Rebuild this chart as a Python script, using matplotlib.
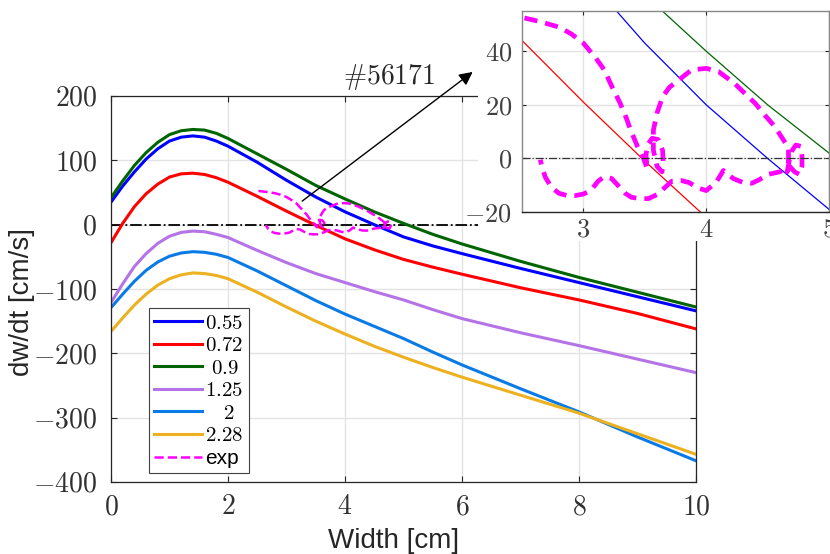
import numpy as np
import matplotlib
matplotlib.use("Agg")
import matplotlib.pyplot as plt
from matplotlib.ticker import FuncFormatter, MultipleLocator
from matplotlib.patches import Rectangle

plt.rcParams['font.family'] = ['Liberation Sans', 'DejaVu Sans']
plt.rcParams['mathtext.fontset'] = 'cm'

# ---- data ----
width = [0, 0.2, 0.4, 0.6, 0.8, 1.0, 1.2, 1.4, 1.6, 1.8, 2.0, 2.5, 3, 3.5, 4, 4.5, 5, 5.5, 6, 7, 8, 9, 10]
v_055 = [35, 60, 82, 102, 118, 130, 136, 138, 136, 130, 122, 97, 69, 43, 20, 0, -19, -33, -45, -68, -90, -112, -134]
v_072 = [-28, 2, 28, 48, 63, 74, 79, 80, 78, 73, 66, 44, 21, -1, -22, -39, -54, -66, -77, -98, -117, -138, -162]
v_09 = [42, 68, 92, 112, 128, 140, 146, 148, 147, 142, 134, 110, 86, 61, 40, 20, 2, -15, -30, -57, -82, -105, -128]
v_125 = [-121, -92, -65, -45, -29, -18, -12, -10, -11, -15, -20, -40, -59, -76, -90, -104, -117, -132, -146, -168, -188, -209, -230]
v_2 = [-129, -108, -88, -71, -58, -49, -44, -42, -43, -46, -51, -72, -95, -118, -139, -158, -177, -198, -218, -255, -291, -330, -367]
v_228 = [-166, -145, -125, -108, -94, -84, -78, -75, -76, -79, -84, -105, -128, -150, -170, -189, -206, -222, -237, -265, -293, -325, -357]

exp_w = [2.52, 2.65, 2.8, 2.9, 3.0, 3.1, 3.17, 3.23, 3.3, 3.35, 3.385, 3.44, 3.49, 3.52, 3.51,
         3.52, 3.56, 3.61, 3.645, 3.65, 3.64, 3.6, 3.57, 3.57, 3.6, 3.645, 3.7, 3.77, 3.88, 4.0,
         4.1, 4.23, 4.32, 4.4, 4.48, 4.56, 4.62, 4.67, 4.67, 4.66, 4.68, 4.7, 4.73, 4.77, 4.78,
         4.78, 4.76, 4.72, 4.68, 4.6, 4.5, 4.43, 4.37, 4.3, 4.22, 4.14, 4.08, 4.0, 3.93, 3.86,
         3.8, 3.72, 3.66, 3.6, 3.53, 3.46, 3.39, 3.34, 3.29, 3.23, 3.17, 3.12, 3.06, 3.0, 2.93,
         2.87, 2.8, 2.74, 2.69, 2.66, 2.65]
exp_v = [52.4, 51, 49, 46.5, 43, 37.5, 33, 27, 20.5, 15, 10.5, 4.5, 0, -4, 1,
         5, 7.5, 7, 3, -2, -5, -3, 3, 10.5, 17, 23, 26.5, 29, 33, 33.6,
         32.4, 28, 24, 20.5, 16, 11.8, 7.5, 4, -1, -5, 0, 3, 5, 4.5, 1,
         -3, -6, -5, -3, -5, -6, -8, -9.3, -9, -7.5, -4.5, -9, -12, -11, -9,
         -8.3, -8.5, -11, -13.5, -15, -15, -14.5, -13, -10.5, -7.5, -6.8, -8.5, -12, -13.3, -13.9,
         -13.9, -13, -10.8, -7, -3, -0.5]

series = [("0.55", v_055, '#0000FF'),
          ("0.72", v_072, '#FF0000'),
          ("0.9", v_09, '#006400'),
          ("1.25", v_125, '#B473E6'),
          ("2", v_2, '#0A7BE6'),
          ("2.28", v_228, '#EDB120')]
legend_labels = [r'$0.55$', r'$0.72$', r'$\ 0.9$', r'$1.25$', r'$\ \ \ 2$', r'$2.28$', 'exp']

fig = plt.figure(figsize=(8.3, 5.54), dpi=100)
W, H = 830, 554

def fx(px):
    return px / W

def fy(py):
    return 1 - py / H

ax = fig.add_axes([fx(111), fy(482), fx(696) - fx(111), fy(96) - fy(482)])
ax.set_zorder(0)
for lab, vals, col in series:
    ax.plot(width, vals, color=col, lw=2.2, label=lab)
ax.plot(exp_w, exp_v, color='#FF00FF', lw=1.8, ls='--', label='exp')
ax.axhline(0, color='k', lw=1.3, ls='-.', zorder=1.5)

ax.set_xlim(0, 10)
ax.set_ylim(-400, 200)
ax.xaxis.set_major_locator(MultipleLocator(2))
ax.yaxis.set_major_locator(MultipleLocator(100))
fmt = FuncFormatter(lambda v, p: f'${v:g}$')
ax.xaxis.set_major_formatter(fmt)
ax.yaxis.set_major_formatter(fmt)
ax.grid(True, color='#E3E3E3', lw=1.0)
ax.set_axisbelow(True)
ax.tick_params(direction='in', length=4.5, width=0.8, top=True, right=True,
               labelsize=20, labelcolor='#303030', color='#262626')
ax.tick_params(axis='x', pad=9)
ax.tick_params(axis='y', pad=10)
for s in ax.spines.values():
    s.set_color('#262626')
    s.set_linewidth(0.9)

ax.set_xlabel('Width [cm]', fontsize=20, color='#262626')
ax.set_ylabel('dw/dt [cm/s]', fontsize=20, color='#262626')
ax.xaxis.set_label_coords((393.5 - 111) / 585, (482 - 528) / 386)
ax.yaxis.set_label_coords((35 - 111) / 585, (482 - 302) / 386)

handles, _ = ax.get_legend_handles_labels()
leg = ax.legend(handles, legend_labels, loc='lower left',
                bbox_to_anchor=((149 - 111) / 585, (482 - 473) / 386),
                borderaxespad=0, fontsize=15, handlelength=2.3, handletextpad=0.15,
                borderpad=0.25, labelspacing=0.17, fancybox=False, framealpha=1,
                edgecolor='#404040')
leg.get_frame().set_linewidth(0.8)

ax.annotate('', xy=(6.22, 240), xytext=(3.23, 34), xycoords='data',
            arrowprops=dict(arrowstyle='-|>', color='k', lw=1.0, mutation_scale=20),
            annotation_clip=False)
ax.text(5.54, 230, r'$\#56171$', ha='right', va='center', fontsize=20,
        color='#262626', clip_on=False)

# white backing behind the inset
rect = Rectangle((fx(478), fy(241)), 1 - fx(478), 1 - fy(241), transform=fig.transFigure,
                 facecolor='white', edgecolor='none', zorder=1)
fig.add_artist(rect)

axi = fig.add_axes([fx(522), fy(212), fx(829) - fx(522), fy(11) - fy(212)])
axi.set_zorder(2)
for lab, vals, col in series[:3]:
    axi.plot(width, vals, color=col, lw=0.9)
axi.plot(exp_w, exp_v, color='#FF00FF', lw=3.4, ls=(0, (2.8, 1.7)))
axi.axhline(0, color='#333333', lw=0.9, ls='-.')
axi.set_xlim(2.5, 5)
axi.set_ylim(-20, 55)
axi.set_xticks([3, 4, 5])
axi.set_yticks([-20, 0, 20, 40])
axi.xaxis.set_major_formatter(fmt)
axi.yaxis.set_major_formatter(fmt)
axi.grid(True, color='#E3E3E3', lw=1.0)
axi.set_axisbelow(True)
axi.tick_params(direction='in', length=3, width=0.8, top=True, right=True,
                labelsize=19, labelcolor='#404040', color='#262626')
axi.tick_params(axis='x', pad=4)
axi.tick_params(axis='y', pad=7)
for k, s in axi.spines.items():
    s.set_color('#888888')
    s.set_linewidth(1.0)
axi.spines['bottom'].set_color('#262626')

fig.savefig('out.png', dpi=100)
